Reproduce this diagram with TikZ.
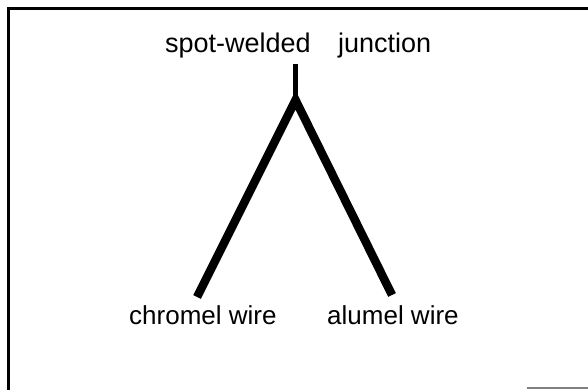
\documentclass[tikz,border=0pt]{standalone}
\usepackage{fontspec}
\setmainfont{Liberation Sans}
\begin{document}
\begin{tikzpicture}[x=1pt,y=1pt,
  lbl/.style={inner sep=0pt, anchor=base west, font=\fontsize{26}{31}\selectfont},
  toplbl/.style={lbl, font=\fontsize{27}{32}\selectfont},
  wire/.style={line width=8.5pt, line join=miter},
  stem/.style={line width=5pt},
  frameline/.style={line width=3pt}]
\useasboundingbox (0,0) rectangle (588,390);
% frame
\coordinate (f1) at (8,-2);
\coordinate (f2) at (8,381);
\coordinate (f3) at (590,381);
\draw[frameline] (f1) -- (f2) -- (f3);
\coordinate (g1) at (527,2);
\coordinate (g2) at (590,2);
\draw[gray, line width=1.2pt] (g1) -- (g2);
% labels
\node[toplbl] (spot) at (165,337) {spot-welded};
\node[toplbl] (junc) at (338,337) {junction};
\node[lbl] (chromel) at (129,65) {chromel wire};
\node[lbl] (alumel) at (327,65) {alumel wire};
% thermocouple
\coordinate (top) at (295.5,326);
\coordinate (fork) at (295.5,290);
\coordinate (cl) at (197,93);
\coordinate (al) at (392,95);
\draw[stem] (top) -- (fork);
\draw[wire] (cl) -- (fork) -- (al);
\end{tikzpicture}
\end{document}
